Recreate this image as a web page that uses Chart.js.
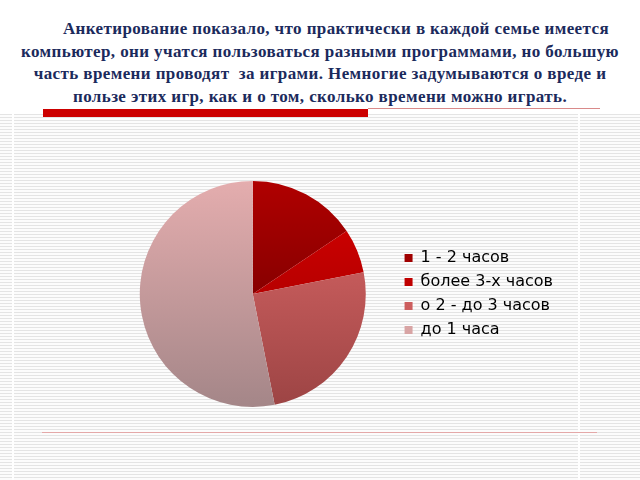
<!DOCTYPE html>
<html>
<head>
<meta charset="utf-8">
<script src="https://cdn.jsdelivr.net/npm/chart.js@4"></script>
<style>
  html, body { margin: 0; padding: 0; }
  body { width: 640px; height: 480px; position: relative; overflow: hidden; background: #fff; }
  .stripes {
    position: absolute; left: 0; top: 114px; width: 640px; height: 366px;
    background: repeating-linear-gradient(to bottom, #e4e4e4 0px, #e4e4e4 1.5px, #fcfcfc 1.5px, #fcfcfc 3px);
  }
  .vline { position: absolute; top: 114px; width: 2px; height: 366px; background: #fff; }
  .title {
    position: absolute; left: 0; top: 18px; width: 640px;
    font-family: "Liberation Serif", "Times New Roman", serif;
    font-weight: bold; font-size: 17px; line-height: 22.7px; letter-spacing: 0.4px;
    color: #1b2a5c; text-align: center; text-indent: 32px;
  }
  .redbar { position: absolute; left: 43px; top: 109px; width: 325px; height: 8px; background: #cc0000; }
  .thin1 { position: absolute; left: 368px; top: 108px; width: 232px; height: 1px; background: #d98a8a; }
  .thin2 { position: absolute; left: 42px; top: 432px; width: 555px; height: 1px; background: #e4a8a8; }
  #wrap { position: absolute; left: 105px; top: 177px; width: 462px; height: 234px; }
</style>
</head>
<body>
<div class="stripes"></div>
<div class="vline" style="left:12px"></div>
<div class="vline" style="left:578px"></div>
<div class="title">Анкетирование показало, что практически в каждой семье имеется<br>компьютер, они учатся пользоваться разными программами, но большую<br>часть времени проводят&nbsp; за играми. Немногие задумываются о вреде и<br>пользе этих игр, как и о том, сколько времени можно играть.</div>
<div class="redbar"></div>
<div class="thin1"></div>
<div class="thin2"></div>
<div id="wrap"><canvas id="pie"></canvas></div>
<script>
// данные диаграммы
const labels = ['1 - 2 часов', 'более 3-х часов', 'о 2 - до 3 часов', 'до 1 часа'];
const values = [15.6, 6.3, 25, 53.1];

// цвета: верх / низ градиента и цвет для легенды
const topColors = ['#b00000', '#d80000', '#e06a6a', '#e4adae'];
const bottomColors = ['#5e0000', '#960000', '#9c4444', '#a48688'];
const legendColors = ['#a00000', '#c00000', '#cc5e5e', '#d8a4a4'];

function sliceColor(ctx) {
    const chart = ctx.chart;
    const area = chart.chartArea;
    const i = ctx.dataIndex;
    if (!area || i === undefined) return legendColors[i] || legendColors[0];
    const arc = chart.getDatasetMeta(0).data[i];
    if (!arc) return legendColors[i];
    const r = arc.outerRadius || 113;
    const cy = arc.y || (area.top + area.bottom) / 2;
    const g = chart.ctx.createLinearGradient(0, cy - r, 0, cy + r);
    g.addColorStop(0, topColors[i]);
    g.addColorStop(1, bottomColors[i]);
    return g;
}

new Chart(document.getElementById('pie'), {
    type: 'pie',
    data: {
        labels: labels,
        datasets: [{
            data: values,
            backgroundColor: sliceColor,
            borderWidth: 0
        }]
    },
    options: {
        responsive: true,
        maintainAspectRatio: false,
        animation: false,
        layout: { padding: 4 },
        plugins: {
            tooltip: { enabled: false },
            legend: {
                position: 'right',
                labels: {
                    boxWidth: 8,
                    boxHeight: 8,
                    padding: 8,
                    color: '#000',
                    font: { family: '"DejaVu Sans", Verdana, sans-serif', size: 16 },
                    generateLabels: (chart) => labels.map((l, i) => ({
                        text: l,
                        fillStyle: legendColors[i],
                        strokeStyle: legendColors[i],
                        lineWidth: 0,
                        hidden: false,
                        index: i
                    }))
                }
            }
        }
    }
});
</script>
</body>
</html>
